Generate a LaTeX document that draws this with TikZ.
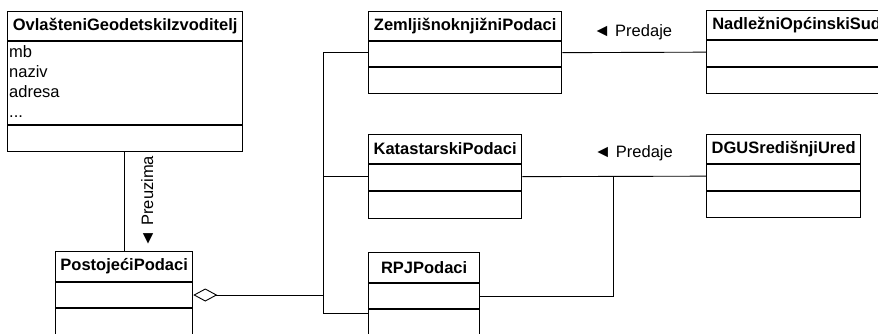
\documentclass[tikz,border=0pt]{standalone}
\usepackage{fontspec}
\setmainfont{Liberation Sans}
\usetikzlibrary{arrows.meta,calc,positioning}

\tikzset{
 klasa/.style={draw,line width=1.3pt,anchor=north west,inner sep=0pt},
 naslov/.style={font=\fontsize{16.5}{20}\selectfont\bfseries,inner sep=0pt},
 veza/.style={line width=.9pt},
 uloga/.style={inner sep=0pt,anchor=base},
}
\newcommand{\trokut}{{\fontsize{17.5}{18}\selectfont ◄}}

% klasa: ime, x, y, sirina, zaglavlje, atributi, operacije, naslov
\newcommand{\klasa}[8]{%
 \node[klasa,minimum width=#4,minimum height=#5+#6+#7] (#1) at (#2,#3) {};
 \node[naslov] (#1-n) at ($(#1.north)+(0,#5/2)$) {#8};
 \draw[line width=1.3pt] ($(#1.north west)+(0,#5)$) -- ($(#1.north east)+(0,#5)$);
 \draw[line width=1.3pt] ($(#1.north west)+(0,#5+#6)$) -- ($(#1.north east)+(0,#5+#6)$);
 \coordinate (#1-a) at ($(#1.north west)+(0,#5+#6/2)$);
}

\begin{document}
\begin{tikzpicture}[x=1pt,y=-1pt,font=\fontsize{16.5}{20}\selectfont]
 \useasboundingbox (0,0) rectangle (878,333);
 \clip (0,0) rectangle (878,333);
 % klase
 \klasa{ogi}{7}{11}{235}{30}{84}{26}{OvlašteniGeodetskiIzvoditelj}
 \node[anchor=north west,align=left,inner sep=0pt] (ogi-atr) at ($(ogi.north west)+(2,34)$) {mb\\naziv\\adresa\\...};
 \klasa{post}{55}{251}{137}{31}{26}{40}{PostojećiPodaci}
 \klasa{zk}{368}{11}{193}{30}{26}{26}{ZemljišnoknjižniPodaci}
 \klasa{kp}{368}{134}{153}{30}{27}{27}{KatastarskiPodaci}
 \klasa{rpj}{368}{252}{111}{31}{26}{40}{RPJPodaci}
 \klasa{nos}{706}{10}{180}{30}{27}{26}{NadležniOpćinskiSud}
 \klasa{dgu}{706}{134}{154}{30}{27}{26}{DGUSredišnjiUred}
 % veze
 \coordinate (sab) at (323,313);
 \coordinate (spoj) at (613,176);
 \draw[veza] (post.north) -- (post.north |- ogi.south)
  node[midway,xshift=29pt,rotate=90,uloga]{\trokut\ Preuzima};
 \draw[veza,{Diamond[open,length=24pt,width=13pt,line width=.9pt]}-] (post-a -| post.east) -- (post-a -| sab);
 \draw[veza] (zk.west) -| (sab) -- (rpj.west |- sab);
 \draw[veza] (kp.west) -- (kp.west -| sab);
 \draw[veza] (zk.east) -- (nos.west)
  node[pos=.49,yshift=16pt,uloga]{\trokut\ Predaje};
 \draw[veza] (kp.east) -- (dgu.west)
  node[pos=.605,yshift=19pt,uloga]{\trokut\ Predaje};
 \draw[veza] (rpj-a -| rpj.east) -| (spoj);
\end{tikzpicture}
\end{document}
